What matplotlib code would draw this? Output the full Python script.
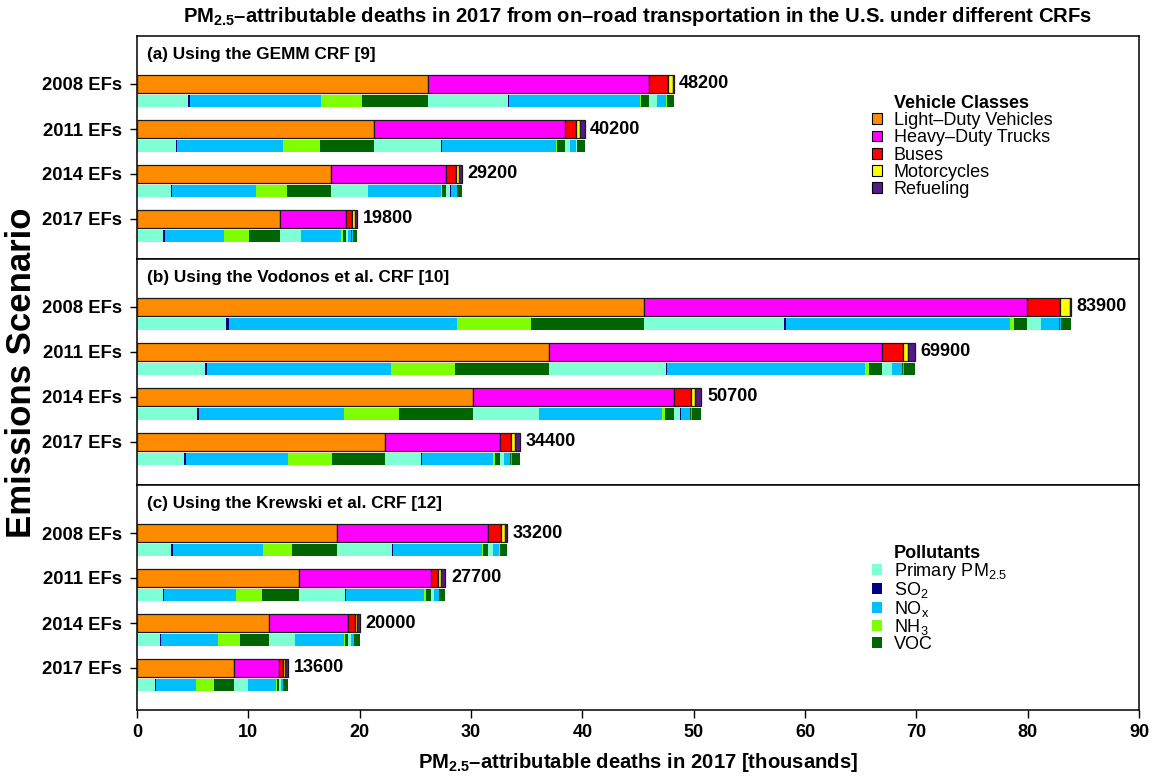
import matplotlib
matplotlib.use("Agg")
import matplotlib.pyplot as plt
from matplotlib.patches import Patch

plt.rcParams['font.family'] = ['Liberation Sans', 'DejaVu Sans']
plt.rcParams['mathtext.fontset'] = 'custom'
plt.rcParams['mathtext.rm'] = 'Liberation Sans'
plt.rcParams['mathtext.it'] = 'Liberation Sans:italic'
plt.rcParams['mathtext.bf'] = 'Liberation Sans:bold'
plt.rcParams['mathtext.default'] = 'regular'

scenarios = ["2008 EFs", "2011 EFs", "2014 EFs", "2017 EFs"]
vehicle_classes = ["Light\u2013Duty Vehicles", "Heavy\u2013Duty Trucks", "Buses",
                   "Motorcycles", "Refueling"]
pollutants = ["Primary PM$_{2.5}$", "SO$_2$", "NO$_x$", "NH$_3$", "VOC"]
panel_titles = ["(a) Using the GEMM CRF [9]",
                "(b) Using the Vodonos et al. CRF [10]",
                "(c) Using the Krewski et al. CRF [12]"]
x_ticks = [0, 10, 20, 30, 40, 50, 60, 70, 80, 90]

# Deaths (thousands) per vehicle class, split by precursor
# [Primary PM2.5, SO2, NOx, NH3, VOC]; one row per emissions scenario.
gemm_ldv = [[4.60, 0.20, 11.75, 3.70, 5.90],
            [3.50, 0.13, 9.45, 3.35, 4.85],
            [3.06, 0.09, 7.56, 2.79, 3.90],
            [2.37, 0.12, 5.28, 2.31, 2.75]]
gemm_hdt = [[7.20, 0.10, 11.70, 0.10, 0.70],
            [6.05, 0.05, 10.25, 0.10, 0.70],
            [3.36, 0.03, 6.48, 0.09, 0.40],
            [1.86, 0.02, 3.64, 0.14, 0.24]]
gemm_bus = [[0.72, 0.02, 0.86, 0.02, 0.08],
            [0.47, 0.01, 0.50, 0.01, 0.03],
            [0.39, 0.01, 0.45, 0.01, 0.04],
            [0.18, 0.01, 0.32, 0.01, 0.08]]
gemm_moto = [[0.04, 0.00, 0.04, 0.00, 0.37],
             [0.03, 0.00, 0.02, 0.00, 0.30],
             [0.02, 0.00, 0.02, 0.00, 0.20],
             [0.02, 0.00, 0.02, 0.00, 0.20]]
gemm_refuel = [[0, 0, 0, 0, 0.10],
               [0, 0, 0, 0, 0.40],
               [0, 0, 0, 0, 0.30],
               [0, 0, 0, 0, 0.23]]

vodonos_ldv = [[8.00, 0.30, 20.40, 6.65, 10.15],
               [6.15, 0.18, 16.45, 5.75, 8.47],
               [5.42, 0.17, 13.04, 4.88, 6.69],
               [4.23, 0.17, 9.12, 4.03, 4.75]]
vodonos_hdt = [[12.65, 0.10, 20.20, 0.35, 1.10],
               [10.50, 0.10, 17.80, 0.35, 1.15],
               [5.90, 0.05, 11.03, 0.27, 0.75],
               [3.25, 0.02, 6.38, 0.24, 0.37]]
vodonos_bus = [[1.29, 0.03, 1.55, 0.03, 0.10],
               [0.90, 0.02, 0.88, 0.02, 0.08],
               [0.61, 0.01, 0.86, 0.01, 0.07],
               [0.37, 0.03, 0.54, 0.01, 0.07]]
vodonos_moto = [[0.04, 0.00, 0.06, 0.00, 0.80],
                [0.03, 0.00, 0.02, 0.00, 0.40],
                [0.03, 0.00, 0.03, 0.00, 0.28],
                [0.03, 0.00, 0.03, 0.00, 0.35]]
vodonos_refuel = [[0, 0, 0, 0, 0.10],
                  [0, 0, 0, 0, 0.65],
                  [0, 0, 0, 0, 0.60],
                  [0, 0, 0, 0, 0.41]]

krewski_ldv = [[3.05, 0.18, 8.08, 2.60, 4.01],
               [2.34, 0.09, 6.47, 2.34, 3.35],
               [2.07, 0.09, 5.12, 1.98, 2.60],
               [1.65, 0.09, 3.56, 1.65, 1.80]]
krewski_hdt = [[4.97, 0.10, 7.96, 0.15, 0.42],
               [4.10, 0.05, 7.07, 0.12, 0.45],
               [2.31, 0.02, 4.43, 0.09, 0.27],
               [1.23, 0.01, 2.48, 0.12, 0.20]]
krewski_bus = [[0.45, 0.04, 0.54, 0.01, 0.10],
               [0.33, 0.01, 0.30, 0.01, 0.03],
               [0.24, 0.01, 0.29, 0.01, 0.05],
               [0.12, 0.01, 0.15, 0.00, 0.02]]
krewski_moto = [[0.03, 0.00, 0.03, 0.00, 0.34],
                [0.02, 0.00, 0.02, 0.00, 0.20],
                [0.02, 0.00, 0.01, 0.00, 0.15],
                [0.02, 0.00, 0.01, 0.00, 0.15]]
krewski_refuel = [[0, 0, 0, 0, 0.14],
                  [0, 0, 0, 0, 0.40],
                  [0, 0, 0, 0, 0.24],
                  [0, 0, 0, 0, 0.33]]

class_colors = ["#FF8C00", "#FF00FF", "#FF0000", "#FFFF00", "#551A8B"]
pollutant_colors = ["#7FFFD4", "#000080", "#00BFFF", "#7FFF00", "#006400"]

panels = [
    (panel_titles[0], [gemm_ldv, gemm_hdt, gemm_bus, gemm_moto, gemm_refuel]),
    (panel_titles[1], [vodonos_ldv, vodonos_hdt, vodonos_bus, vodonos_moto, vodonos_refuel]),
    (panel_titles[2], [krewski_ldv, krewski_hdt, krewski_bus, krewski_moto, krewski_refuel]),
]

W, H = 1156, 776
fig = plt.figure(figsize=(W / 100, H / 100), dpi=100)

# panel extents in pixels (top, bottom); plotting area spans x 137..1139
panel_px = [(36, 259), (259, 485), (485, 710)]
x_left, x_right = 137, 1139

ROW_STEP = 45
TOP_OFF = 48
TOP_H = 18
BOT_OFF = 65
BOT_H = 12

axes = []
for (title, classes), (ptop, pbot) in zip(panels, panel_px):
    ph = pbot - ptop
    ax = fig.add_axes([x_left / W, 1 - pbot / H, (x_right - x_left) / W, ph / H])
    axes.append(ax)
    ax.set_xlim(0, 90)
    ax.set_ylim(ph, 0)

    top_y = [TOP_OFF + ROW_STEP * i for i in range(len(scenarios))]
    bot_y = [BOT_OFF + ROW_STEP * i for i in range(len(scenarios))]

    for i in range(len(scenarios)):
        class_totals = [sum(c[i]) for c in classes]
        left = 0.0
        for k, val in enumerate(class_totals):
            ax.barh(top_y[i], val, left=left, height=TOP_H, color=class_colors[k],
                    edgecolor="#1a1a1a", linewidth=0.9, zorder=3)
            left += val
        left = 0.0
        for c in classes:
            for p, v in enumerate(c[i]):
                if v > 0:
                    ax.barh(bot_y[i], v, left=left, height=BOT_H,
                            color=pollutant_colors[p], linewidth=0, zorder=2)
                left += v
        total = sum(class_totals)
        ax.annotate(f"{round(total * 10) * 100}", xy=(total, top_y[i]),
                    xytext=(4, 0), textcoords="offset points",
                    va="center", ha="left", fontweight="bold", fontsize=13)

    ax.set_yticks(top_y)
    ax.set_yticklabels(scenarios, fontweight="bold", fontsize=13.3)
    ax.tick_params(axis="y", direction="out", length=5, width=1, pad=6)
    ax.text(10 / (x_right - x_left), 1 - 19 / ph, title, transform=ax.transAxes,
            fontweight="bold", fontsize=12.4, va="center", ha="left")
    for s in ax.spines.values():
        s.set_linewidth(1.1)
    ax.tick_params(axis="x", bottom=False, labelbottom=False)

axes[-1].set_xticks(x_ticks)
axes[-1].set_xticklabels([str(t) for t in x_ticks], fontweight="bold", fontsize=13)
axes[-1].tick_params(axis="x", bottom=True, labelbottom=True, direction="out",
                     length=6, width=1, pad=4)


def add_legend(ax, header, names, colors, edge, anchor, spacing):
    handles = [Patch(visible=False)] + [
        Patch(facecolor=c, edgecolor=edge, linewidth=0.8 if edge else 0) for c in colors]
    leg = ax.legend(handles, [header] + names, loc="upper left", bbox_to_anchor=anchor,
                    frameon=False, fontsize=13, handlelength=0.55, handleheight=0.55,
                    handletextpad=0.65, labelspacing=spacing, borderpad=0,
                    borderaxespad=0)
    leg.get_texts()[0].set_fontweight("bold")
    return leg


add_legend(axes[0], "Vehicle Classes", vehicle_classes, class_colors, "black",
           ((872 - x_left) / (x_right - x_left), 1 - (95 - 36) / 223), 0.01)
add_legend(axes[2], "Pollutants", pollutants, pollutant_colors, None,
           ((872 - x_left) / (x_right - x_left), 1 - (545 - 485) / 225), -0.08)

fig.text((x_left + x_right) / 2 / W, 1 - 17 / H,
         "PM$_{2.5}$\u2013attributable deaths in 2017 from on\u2013road transportation "
         "in the U.S. under different CRFs",
         ha="center", va="center", fontweight="bold", fontsize=14.6)
fig.text((x_left + x_right) / 2 / W, 1 - 762 / H,
         "PM$_{2.5}$\u2013attributable deaths in 2017 [thousands]",
         ha="center", va="center", fontweight="bold", fontsize=14.6)
fig.text(22 / W, 1 - 373 / H, "Emissions Scenario", rotation=90,
         ha="center", va="center", fontweight="bold", fontsize=25)

fig.savefig("out.png", dpi=100)
